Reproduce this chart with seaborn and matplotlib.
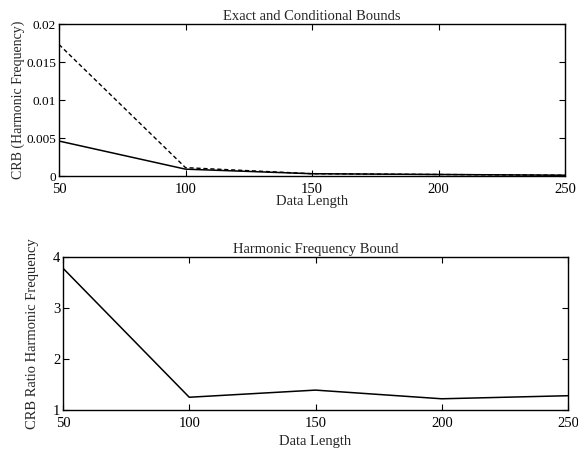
import matplotlib
matplotlib.use("Agg")
import matplotlib.pyplot as plt
import seaborn as sns
import pandas as pd

data_length = [50, 100, 150, 200, 250]
crb_exact = [0.0046, 0.0009, 0.0003, 0.0002, 0.0001]
crb_conditional = [0.0173, 0.0011, 0.0003, 0.0002, 0.0001]
crb_ratio = [3.78, 1.25, 1.39, 1.22, 1.28]

sns.set_style("ticks", {"xtick.direction": "in", "ytick.direction": "in"})
plt.rcParams["font.family"] = ["Liberation Serif", "DejaVu Serif"]
plt.rcParams["axes.linewidth"] = 1.0

fig = plt.figure(figsize=(5.78, 4.5), dpi=100)
ax1 = fig.add_axes([59/578, 1-176/450, (565-59)/578, (176-24)/450])
ax2 = fig.add_axes([63/578, 1-410/450, (568-63)/578, (410-257)/450])

df1 = pd.DataFrame({"x": data_length, "exact": crb_exact, "cond": crb_conditional})
sns.lineplot(data=df1, x="x", y="exact", ax=ax1, color="black", lw=1.1)
sns.lineplot(data=df1, x="x", y="cond", ax=ax1, color="black", lw=1.0, linestyle=(0, (3, 2)))
ax1.set_xlim(50, 250)
ax1.set_ylim(0, 0.02)
ax1.set_xticks([50, 100, 150, 200, 250])
ax1.set_yticks([0, 0.005, 0.01, 0.015, 0.02])
ax1.set_yticklabels(["0", "0.005", "0.01", "0.015", "0.02"])
ax1.set_title("Exact and Conditional Bounds", fontsize=10.5, pad=3)
ax1.set_xlabel("Data Length", fontsize=10.5, labelpad=-1)
ax1.set_ylabel("CRB (Harmonic Frequency)", fontsize=10, labelpad=1)

df2 = pd.DataFrame({"x": data_length, "ratio": crb_ratio})
sns.lineplot(data=df2, x="x", y="ratio", ax=ax2, color="black", lw=1.1)
ax2.set_xlim(50, 250)
ax2.set_ylim(1, 4)
ax2.set_xticks([50, 100, 150, 200, 250])
ax2.set_yticks([1, 2, 3, 4])
ax2.set_title("Harmonic Frequency Bound", fontsize=10.5, pad=3)
ax2.set_xlabel("Data Length", fontsize=10.5, labelpad=4)
ax2.set_ylabel("CRB Ratio Harmonic Frequency", fontsize=10.5, labelpad=10)

for ax in (ax1, ax2):
    ax.tick_params(axis="both", which="both", direction="in", top=True, right=True,
                   labelsize=10.5, length=4, width=0.8, pad=2, colors="black")
    ax.tick_params(axis="x", pad=5)
    for s in ax.spines.values():
        s.set_visible(True)
        s.set_color("black")
ax1.tick_params(axis="y", labelsize=9.5)

fig.savefig("out.png", dpi=100)
